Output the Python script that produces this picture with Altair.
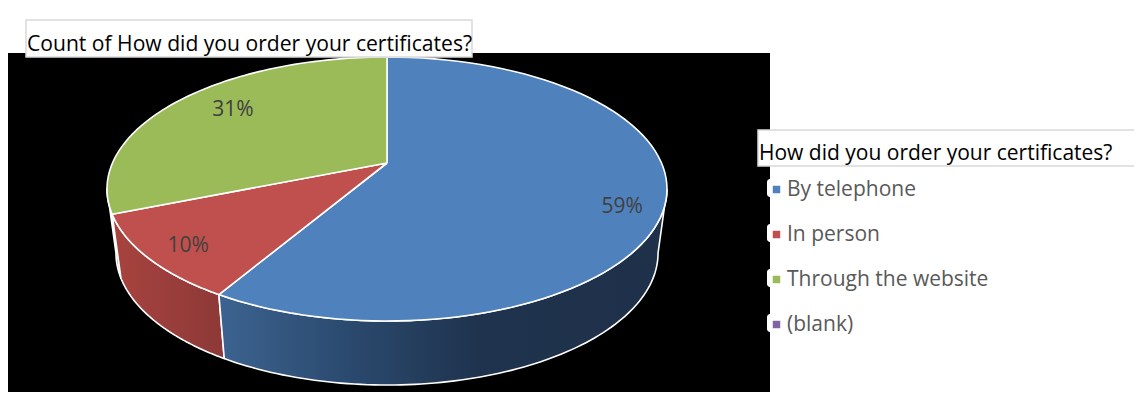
import numpy as np
import pandas as pd
import altair as alt

# --- values ---
categories = ["By telephone", "In person", "Through the website", "(blank)"]
colors = ["#4f81bd", "#c0504d", "#9bbb59", "#8064a2"]
shares = ["59%", "10%", "31%"]
label_x = [0.84, -0.71, -0.55]
label_y = [-0.12, -0.42, 0.61]
# slice edges as seen on the tilted rim, degrees clockwise from 12 o'clock
edges = [0.0, 216.9, 259.0, 360.0]
apex_y = 0.197
rim_scale = 0.968      # lower rim is narrower
rim_drop = 0.485       # depth of the wall
title_text = "Count of How did you order your certificates?"
legend_title = "How did you order your certificates?"

W, H = 1126, 392
CX, CY, RX, RY = 387 - 8, 189 - 8, 280, 132
x_dom = [(0 - CX) / RX, (W - CX) / RX]
y_dom = [(CY - H) / RY, (CY - 0) / RY]
X = alt.X("x:Q", scale=alt.Scale(domain=x_dom, nice=False, zero=False), axis=None)
Y = alt.Y("y:Q", scale=alt.Scale(domain=y_dom, nice=False, zero=False), axis=None)


def top_outline(a, b):
    t = np.radians(np.linspace(a, b, 90))
    xs = [0.0, *np.sin(t), 0.0]
    ys = [apex_y, *np.cos(t), apex_y]
    return pd.DataFrame({"x": xs, "y": ys, "i": range(len(xs))})


def wall_outline(a, b):
    t = np.radians(np.linspace(a, b, 90))
    xs = [*np.sin(t), *(rim_scale * np.sin(t[::-1]))]
    ys = [*np.cos(t), *(np.cos(t[::-1]) - rim_drop)]
    xs.append(xs[0])
    ys.append(ys[0])
    return pd.DataFrame({"x": xs, "y": ys, "i": range(len(xs))})


def grad(stops):
    return alt.LinearGradient(
        gradient="linear", x1=0, x2=1, y1=0, y2=0,
        stops=[alt.GradientStop(offset=o, color=c) for o, c in stops],
    )


def shape(df, fill):
    return alt.Chart(df).mark_line(
        fill=fill, stroke="#ffffff", strokeWidth=1.6, strokeJoin="round"
    ).encode(x=X, y=Y, order="i:Q")


black = alt.Chart(pd.DataFrame({"a": [0]})).mark_rect(color="#000000").encode(
    x=alt.value(-2), x2=alt.value(762), y=alt.value(45), y2=alt.value(384)
)

walls = [
    shape(wall_outline(259.0, 270.0), "#7f9a45"),
    shape(wall_outline(edges[1], edges[2]),
          grad([(0, "#a8433f"), (1, "#8d3937")])),
    shape(wall_outline(90.0, edges[1]),
          grad([(0, "#3c6390"), (0.28, "#2b4a6f"), (0.58, "#1f334e"), (1, "#1f3049")])),
]
tops = [
    shape(top_outline(edges[0], edges[1]), colors[0]),
    shape(top_outline(edges[1], edges[2]), colors[1]),
    shape(top_outline(edges[2], edges[3]), colors[2]),
]

labels = alt.Chart(pd.DataFrame({"x": label_x, "y": label_y, "t": shares})).mark_text(
    font="Open Sans", fontSize=21, color="#404040", dy=2
).encode(x=X, y=Y, text="t:N")


def box(x1, x2, y1, y2):
    return alt.Chart(pd.DataFrame({"a": [0]})).mark_rect(
        fill="#ffffff", stroke="#d9d9d9", strokeWidth=1.5
    ).encode(x=alt.value(x1), x2=alt.value(x2), y=alt.value(y1), y2=alt.value(y2))


title_box = box(18, 464, 12, 49)
legend_box = box(750, 1131, 122, 158)

tabs = pd.DataFrame({"x": [759] * 4, "x2": [768] * 4,
                     "y": [171, 216, 261, 306], "y2": [189, 234, 279, 324]})
legend_tabs = alt.Chart(tabs).mark_rect(fill="#ffffff", cornerRadius=3).encode(
    x=alt.X("x:Q", scale=None), x2="x2:Q",
    y=alt.Y("y:Q", scale=None), y2="y2:Q",
)

title_mark = alt.Chart(pd.DataFrame({"t": [title_text]})).mark_text(
    font="Open Sans", fontSize=21.1, color="#000000", align="left", baseline="alphabetic"
).encode(x=alt.value(19), y=alt.value(43), text="t:N")

legend_src = alt.Chart(pd.DataFrame({"c": categories})).mark_square(opacity=0).encode(
    color=alt.Color(
        "c:N",
        scale=alt.Scale(domain=categories, range=colors),
        sort=categories,
        legend=alt.Legend(
            orient="none", legendX=751, legendY=135,
            title=legend_title, titleFont="Open Sans", titleFontSize=21,
            titleFontWeight="normal", titleColor="#000000", titleLimit=500,
            titlePadding=15,
            labelFont="Open Sans", labelFontSize=21, labelColor="#595959",
            labelLimit=400, labelOffset=0,
            symbolType="square", symbolSize=56, symbolOpacity=1, symbolStrokeWidth=0,
            symbolOffset=7,
            rowPadding=23, padding=0,
        ),
    )
)

chart = alt.layer(
    black, *walls, *tops, labels, title_box, title_mark, legend_box, legend_tabs, legend_src
).properties(
    width=W, height=H, padding=0, background="#ffffff",
    autosize=alt.AutoSizeParams(type="none"),
).configure_view(stroke=None)

chart.save("out.html", embed_options={"renderer": "svg", "actions": False})
